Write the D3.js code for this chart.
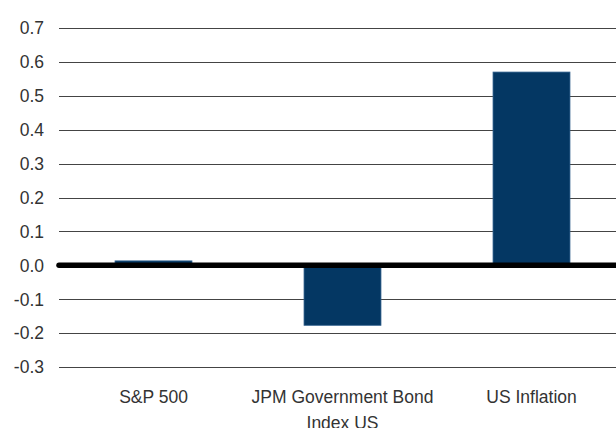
<!DOCTYPE html>
<html><head><meta charset="utf-8">
<script src="https://cdn.jsdelivr.net/npm/d3@7"></script>
<style>body{margin:0;background:#fff;}svg{display:block;}</style>
</head><body>
<svg id="c" width="616" height="428"></svg>
<script>
const categories = [["S&P 500"], ["JPM Government Bond", "Index US"], ["US Inflation"]];
const values = [0.013, -0.177, 0.570];
const yTicks = [-0.3, -0.2, -0.1, 0.0, 0.1, 0.2, 0.3, 0.4, 0.5, 0.6, 0.7];
const yTickLabels = ["-0.3", "-0.2", "-0.1", "0.0", "0.1", "0.2", "0.3", "0.4", "0.5", "0.6", "0.7"];

const svg = d3.select("#c");
const left = 59, right = 626;
const y = d3.scaleLinear().domain([-0.3, 0.7]).range([367, 28]);
const x = d3.scaleBand().domain(d3.range(categories.length)).range([left, right])
  .paddingInner(0.593).paddingOuter(0.2965);

// gridlines
svg.append("g").selectAll("line").data(yTicks.filter(d => d !== 0)).join("line")
  .attr("x1", left).attr("x2", 616)
  .attr("y1", d => Math.round(y(d)) + 0.5).attr("y2", d => Math.round(y(d)) + 0.5)
  .attr("stroke", "#444").attr("stroke-width", 1.2);

// y labels
svg.append("g").selectAll("text").data(yTicks).join("text")
  .attr("x", 44).attr("y", d => y(d)).attr("dy", "0.36em")
  .attr("text-anchor", "end")
  .attr("font-family", "Liberation Sans, Arial, sans-serif")
  .attr("font-size", "17.5px").attr("fill", "#333")
  .text((d, i) => yTickLabels[i]);

// bars
svg.append("g").selectAll("rect").data(values).join("rect")
  .attr("x", (d, i) => x(i)).attr("width", x.bandwidth())
  .attr("y", d => y(Math.max(0, d))).attr("height", d => Math.abs(y(d) - y(0)))
  .attr("fill", "#043763").attr("stroke", "#2f5f8c").attr("stroke-width", 0.8);

// zero line
svg.append("line").attr("x1", left).attr("x2", 616)
  .attr("y1", y(0)).attr("y2", y(0))
  .attr("stroke", "#000").attr("stroke-width", 5.5).attr("stroke-linecap", "round");

// x labels
const xl = svg.append("g").selectAll("text").data(categories).join("text")
  .attr("text-anchor", "middle")
  .attr("font-family", "Liberation Sans, Arial, sans-serif")
  .attr("font-size", "17.5px").attr("fill", "#333")
  .attr("transform", (d, i) => `translate(${x(i) + x.bandwidth() / 2},403)`);
xl.selectAll("tspan").data(d => d).join("tspan")
  .attr("x", 0).attr("dy", (d, j) => j === 0 ? 0 : 26).text(d => d);
</script>
</body></html>
